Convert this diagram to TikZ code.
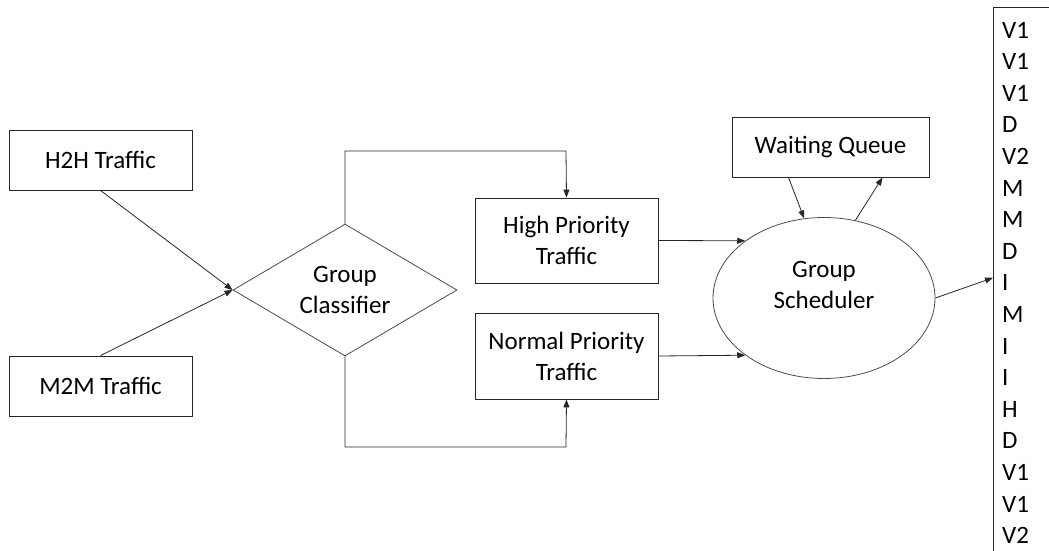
\documentclass[tikz,border=0pt]{standalone}
\usepackage{fontspec}
\setmainfont{Carlito}
\usetikzlibrary{shapes.geometric, arrows.meta}

\begin{document}
\begin{tikzpicture}[x=1pt, y=-1pt,
  every node/.style={font=\fontsize{25}{31}\selectfont, inner sep=0pt},
  box/.style={draw=black!85, line width=0.9pt, minimum width=183, minimum height=60, align=center},
  flow/.style={draw=black!85, line width=0.8pt, -{Triangle[length=8pt, width=6pt]}}]
\useasboundingbox (0, 0) rectangle (1049, 551);
\clip (0, 0) rectangle (1049, 551);
%Boxes
\node [box] (h2h) at (100.5, 160) {H2H Traffic};
\node [box] (m2m) at (100.5, 386) {M2M Traffic};
\node [draw=black!70, line width=0.8pt, diamond, aspect=1.7, minimum width=224, minimum height=132, align=center] (gc) at (345, 290) {Group\\Classifier};
\node [box, minimum height=85] (high) at (566.5, 240.5) {High Priority\\Traffic};
\node [box, minimum height=86] (normal) at (566.5, 356) {Normal Priority\\Traffic};
\node [box, minimum width=197] (wq) at (830.5, 147) {Waiting Queue};
\node [draw=black!70, line width=0.8pt, ellipse, minimum width=222, minimum height=161] (gs) at (824, 298) {};
\node [align=center] (gstext) at ([yshift=13pt]gs.center) {Group\\Scheduler};
%Output queue
\node [draw=black!85, line width=0.9pt, anchor=north west, minimum width=90, minimum height=600] (list) at (993, 7) {};
\foreach \v [count=\i] in {V1,V1,V1,D,V2,M,M,D,I,M,I,I,H,D,V1,V1,V2}
  \node [anchor=west] (q\i) at (1002, {30+31.6*(\i-1)}) {\v};
%Arrows
\draw [flow] (h2h.south) -- (gc.west);
\draw [flow] (m2m.north) -- (gc.west);
\draw [flow] (gc.north) |- (566, 151) -- (high.north);
\draw [flow] (gc.south) |- (566, 447) -- (normal.south);
\draw [flow] (high.east) -- (gs.144);
\draw [flow] (normal.east) -- (gs.216);
\draw [flow] ([xshift=-42pt]wq.south) -- (gs.104);
\draw [flow] (gs.68) -- ([xshift=52pt]wq.south);
\draw [flow] (gs.east) -- ([yshift=5pt]list.west |- q9);
\end{tikzpicture}
\end{document}
